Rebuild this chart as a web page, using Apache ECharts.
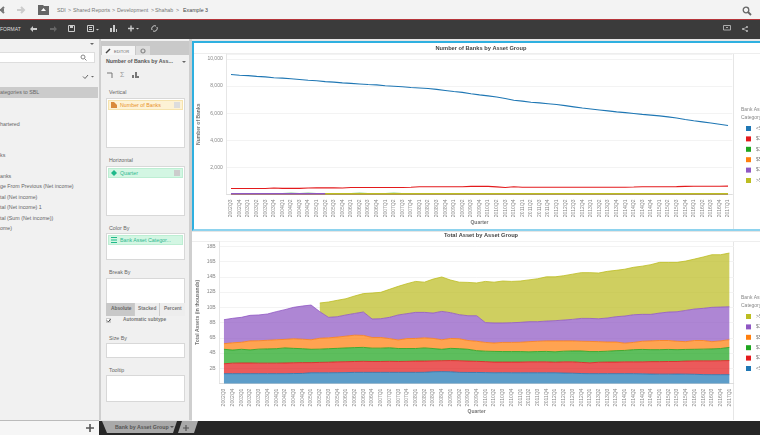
<!DOCTYPE html>
<html>
<head>
<meta charset="utf-8">
<title>Bank by Asset Group</title>
<script src="https://cdn.jsdelivr.net/npm/echarts@6/dist/echarts.min.js"></script>
<style>
html, body { margin: 0; padding: 0; width: 760px; height: 435px; overflow: hidden; background: #e6e6e6; }
body { font-family: "Liberation Sans", Arial, sans-serif; font-size: 5.3px; color: #666; position: relative; filter: blur(.3px); }
.r { position: absolute; box-sizing: border-box; }
.t { position: absolute; white-space: nowrap; line-height: 8px; }
.box { position: absolute; box-sizing: border-box; background: #fff; border: 1px solid #d8d8d8; left: 106px; width: 79px; }
svg { position: absolute; overflow: visible; }
#chart { position: absolute; left: 192px; top: 40px; width: 660px; height: 382px; }
</style>
</head>
<body>
<!-- top bars -->
<div class="r" style="left:0;top:0;width:760px;height:19px;background:#f3f3f3"></div>
<div class="r" style="left:0;top:19px;width:760px;height:1px;background:#b5353a"></div>
<div class="r" style="left:0;top:20px;width:760px;height:19px;background:#3b3b3b"></div>
<svg style="left:0;top:6px" width="10" height="8"><path d="M0 4H4M4 1L1 4L4 7" stroke="#777" stroke-width="2" fill="none"/></svg>
<svg style="left:17px;top:6px" width="10" height="8"><path d="M0 4H7M4 1L7 4L4 7" stroke="#ccc" stroke-width="2" fill="none"/></svg>
<svg style="left:38px;top:5px" width="11" height="10"><path d="M0 0H5L6 1H11V10H0Z" fill="#666"/><path d="M5.5 3L3 6H8Z" fill="#fff"/></svg>
<div class="t" style="left:57px;top:6px;color:#777">SDI</div>
<div class="t" style="left:68px;top:6px;color:#777">&gt;</div>
<div class="t" style="left:73px;top:6px;color:#777">Shared Reports</div>
<div class="t" style="left:112px;top:6px;color:#777">&gt;</div>
<div class="t" style="left:117px;top:6px;color:#777">Development</div>
<div class="t" style="left:151px;top:6px;color:#777">&gt;</div>
<div class="t" style="left:155px;top:6px;color:#777">Shahab</div>
<div class="t" style="left:176px;top:6px;color:#777">&gt;</div>
<div class="t" style="left:183px;top:6px;color:#444">Example 3</div>
<svg style="left:742px;top:6px" width="10" height="10"><circle cx="4" cy="4" r="2.8" stroke="#666" stroke-width="1.3" fill="none"/><path d="M6 6L9 9" stroke="#666" stroke-width="1.8"/></svg>
<div class="t" style="left:0;top:25px;color:#ddd;font-size:5px">FORMAT</div>
<svg style="left:30px;top:26px" width="8" height="6"><path d="M0 3L3 0V6ZM3 2H7V4H3Z" fill="#ccc"/></svg>
<svg style="left:49px;top:26px" width="8" height="6"><path d="M8 3L5 0V6ZM1 2H5V4H1Z" fill="#666"/></svg>
<svg style="left:68px;top:25px" width="7" height="7"><path d="M0.5 0.5H6.5V6.5H0.5Z" stroke="#ccc" fill="none"/><path d="M2 0.5H5V3H2Z" fill="#ccc"/></svg>
<svg style="left:87px;top:25px" width="13" height="7"><path d="M0.5 0.5H6.5V6.5H0.5Z" stroke="#ccc" fill="none"/><path d="M2 2.5H5M2 4.5H5" stroke="#ccc"/><path d="M9 4H12L10.5 5.5Z" fill="#ccc"/></svg>
<svg style="left:109px;top:25px" width="8" height="7"><path d="M1 3H3V7H1ZM4 0H6V7H4ZM7 4H8V7H7Z" fill="#ccc"/></svg>
<svg style="left:128px;top:25px" width="12" height="7"><path d="M0 3.5H6M3 0.5V6.5" stroke="#ccc" stroke-width="1.4"/><path d="M8 3H11L9.5 4.5Z" fill="#ccc"/></svg>
<svg style="left:151px;top:25px" width="7" height="7"><path d="M1 5A3 3 0 0 1 5 1M6 2A3 3 0 0 1 2 6" stroke="#ccc" fill="none"/></svg>
<svg style="left:723px;top:25px" width="8" height="7"><path d="M0.5 0.5H7.5V5H0.5Z" stroke="#aaa" fill="none"/><path d="M3 2.5H5" stroke="#aaa"/></svg>
<svg style="left:742px;top:26px" width="6" height="6"><path d="M1 3L5 1M1 3L5 5" stroke="#bbb" stroke-width=".7"/><circle cx="1" cy="3" r="1" fill="#bbb"/><circle cx="5" cy="1" r="1" fill="#bbb"/><circle cx="5" cy="5" r="1" fill="#bbb"/></svg>

<!-- left panel -->
<div class="r" style="left:0;top:39px;width:99px;height:381px;background:#f1f1f1"></div>
<div class="r" style="left:99px;top:39px;width:2px;height:381px;background:#cfcfcf"></div>
<div class="r" style="left:0;top:52px;width:95px;height:11px;background:#fff;border:1px solid #ddd;border-left:0"></div>
<svg style="left:80px;top:54px" width="7" height="7"><circle cx="3" cy="3" r="2" stroke="#888" fill="none"/><path d="M4.5 4.5L6.5 6.5" stroke="#888"/></svg>
<svg style="left:90px;top:43px" width="4" height="3"><path d="M0 0H4L2 2Z" fill="#666"/></svg>
<svg style="left:83px;top:74px" width="12" height="5"><path d="M0 2.5L2 4.5L5 1" stroke="#666" fill="none"/><path d="M8 2H11L9.5 3.5Z" fill="#666"/></svg>
<div class="r" style="left:0;top:87px;width:98px;height:11px;background:#cbcbcb"></div>
<div class="t" style="left:0;top:88px;color:#666">ategories to SBL</div>
<div class="t" style="left:0;top:120px">hartered</div>
<div class="t" style="left:0;top:151px">ks</div>
<div class="t" style="left:0;top:172px">anks</div>
<div class="t" style="left:0;top:182px">ge From Previous (Net income)</div>
<div class="t" style="left:0;top:193px">tal (Net income)</div>
<div class="t" style="left:0;top:203px">tal (Net income) 1</div>
<div class="t" style="left:0;top:214px">tal (Sum (Net income))</div>
<div class="t" style="left:0;top:224px">ome)</div>

<!-- editor panel -->
<div class="r" style="left:101px;top:39px;width:88px;height:381px;background:#f0f0f0"></div>
<div class="r" style="left:189px;top:39px;width:3px;height:381px;background:#cfcfcf"></div>
<div class="r" style="left:101px;top:41px;width:88px;height:14px;background:#c9c9c9"></div>
<div class="r" style="left:102px;top:46px;width:33px;height:9px;background:#f5f5f5"></div>
<div class="r" style="left:136px;top:46px;width:14px;height:9px;background:#dcdcdc"></div>
<svg style="left:105px;top:48px" width="6" height="6"><path d="M1 5L5 1" stroke="#444" stroke-width="1.4"/></svg>
<div class="t" style="left:114px;top:48px;font-size:4px;color:#666">EDITOR</div>
<svg style="left:140px;top:48px" width="6" height="6"><circle cx="3" cy="3" r="2" stroke="#888" stroke-width="1.2" fill="none"/></svg>
<div class="t" style="left:106px;top:57px;font-weight:bold;color:#555">Number of Banks by Ass...</div>
<svg style="left:182px;top:61px" width="4" height="3"><path d="M0 0H4L2 2Z" fill="#666"/></svg>
<svg style="left:107px;top:72px" width="6" height="6"><path d="M0 1H5V6" stroke="#777" fill="none"/></svg>
<div class="t" style="left:120px;top:71px;color:#999;font-size:7px">&Sigma;</div>
<svg style="left:132px;top:72px" width="7" height="6"><path d="M0 3H2V6H0ZM3 0H5V6H3ZM5 4H7V6H5Z" fill="#777"/></svg>

<div class="t" style="left:109px;top:88px">Vertical</div>
<div class="box" style="top:98px;height:50px"></div>
<div class="r" style="left:108px;top:100px;width:75px;height:10px;background:#fdf2d5;border:1px solid #f6e3ae"></div>
<svg style="left:111px;top:102px" width="6" height="6"><path d="M0 0H3L6 3V6H0Z" fill="#d98a3c"/></svg>
<div class="t" style="left:120px;top:101px;color:#e8902a">Number of Banks</div>
<div class="r" style="left:174px;top:102px;width:6px;height:6px;background:#ddd"></div>

<div class="t" style="left:109px;top:156px">Horizontal</div>
<div class="box" style="top:166px;height:50px"></div>
<div class="r" style="left:108px;top:168px;width:75px;height:10px;background:#d3f6e3;border:1px solid #bdeed3"></div>
<svg style="left:111px;top:170px" width="6" height="6"><path d="M3 0L6 3L3 6L0 3Z" fill="#1fb98a"/></svg>
<div class="t" style="left:120px;top:169px;color:#2eb88f">Quarter</div>
<div class="r" style="left:174px;top:170px;width:6px;height:6px;background:#ccc"></div>

<div class="t" style="left:109px;top:224px">Color By</div>
<div class="box" style="top:233px;height:27px"></div>
<div class="r" style="left:108px;top:235px;width:75px;height:10px;background:#d3f6e3;border:1px solid #bdeed3"></div>
<svg style="left:111px;top:237px" width="6" height="6"><path d="M0 0.5H6M0 3H6M0 5.5H6" stroke="#1fb98a" stroke-width="1.2"/></svg>
<div class="t" style="left:120px;top:236px;color:#2eb88f">Bank Asset Categor...</div>

<div class="t" style="left:109px;top:268px">Break By</div>
<div class="box" style="top:278px;height:38px"></div>
<div class="r" style="left:106px;top:303px;width:28px;height:13px;background:#c8c8c8"></div>
<div class="r" style="left:134px;top:303px;width:25px;height:13px;background:#ededed;border-left:1px solid #ccc"></div>
<div class="r" style="left:159px;top:303px;width:26px;height:13px;background:#ededed;border-left:1px solid #ccc"></div>
<div class="t" style="left:111px;top:305px;font-weight:bold;color:#666;font-size:4.8px">Absolute</div>
<div class="t" style="left:138px;top:305px;font-weight:bold;color:#777;font-size:4.8px">Stacked</div>
<div class="t" style="left:164px;top:305px;font-weight:bold;color:#777;font-size:4.8px">Percent</div>
<div class="r" style="left:106px;top:318px;width:5px;height:5px;background:#fff;border:1px solid #ccc"></div>
<svg style="left:106px;top:318px" width="5" height="5"><path d="M1 2.5L2.5 4L4.5 1" stroke="#444" fill="none"/></svg>
<div class="t" style="left:123px;top:316px;font-size:4.8px;font-weight:bold;color:#777">Automatic subtype</div>

<div class="t" style="left:109px;top:334px">Size By</div>
<div class="box" style="top:343px;height:15px"></div>
<div class="t" style="left:109px;top:366px">Tooltip</div>
<div class="box" style="top:375px;height:27px"></div>

<!-- chart panes, the charts themselves go on top -->
<div class="r" style="left:192px;top:41px;width:580px;height:190px;background:#fff;border:2px solid #2fb0e0;border-bottom-color:#8ed3ee"></div>
<div class="r" style="left:192px;top:232px;width:580px;height:189px;background:#fff"></div>
<div class="r" style="left:194px;top:53px;width:570px;height:1px;background:#eee"></div>
<div class="r" style="left:192px;top:241px;width:570px;height:1px;background:#eee"></div>
<div class="r" style="left:733px;top:54px;width:1px;height:175px;background:#e6e6e6"></div>
<div class="r" style="left:733px;top:241px;width:1px;height:179px;background:#e6e6e6"></div>

<!-- bottom tabs -->
<div class="r" style="left:0;top:420px;width:99px;height:15px;background:#f6f6f6;border-top:1px solid #bbb"></div>
<div class="r" style="left:99px;top:421px;width:661px;height:14px;background:#262626"></div>
<svg style="left:102px;top:421px" width="96" height="13"><path d="M0 0H75L71 12H5Z" fill="#a9a9a9"/><path d="M80 0H96L92 12H76Z" fill="#a9a9a9"/></svg>
<div class="t" style="left:115px;top:423px;font-weight:bold;color:#555">Bank by Asset Group</div>
<svg style="left:170px;top:426px" width="4" height="3"><path d="M0 0H4L2 2Z" fill="#555"/></svg>
<svg style="left:183px;top:425px" width="6" height="6"><path d="M0 3H6M3 0V6" stroke="#555" stroke-width="1.2"/></svg>
<svg style="left:86px;top:424px" width="8" height="8"><path d="M0 4H8M4 0V8" stroke="#555" stroke-width="1.6"/></svg>

<div id="chart"></div>
<script>
var quarters = ['2002Q3','2002Q4','2003Q1','2003Q2','2003Q3','2003Q4','2004Q1','2004Q2','2004Q3','2004Q4',
    '2005Q1','2005Q2','2005Q3','2005Q4','2006Q1','2006Q2','2006Q3','2006Q4','2007Q1','2007Q2',
    '2007Q3','2007Q4','2008Q1','2008Q2','2008Q3','2008Q4','2009Q1','2009Q2','2009Q3','2009Q4',
    '2010Q1','2010Q2','2010Q3','2010Q4','2011Q1','2011Q2','2011Q3','2011Q4','2012Q1','2012Q2',
    '2012Q3','2012Q4','2013Q1','2013Q2','2013Q3','2013Q4','2014Q1','2014Q2','2014Q3','2014Q4',
    '2015Q1','2015Q2','2015Q3','2015Q4','2016Q1','2016Q2','2016Q3','2016Q4','2017Q1'];
var groups = ['<$1B', '$1B-$10B', '$10B-$50B', '$50B-$100B', '$100B-$175B', '>$175B'];
var colors = ['#1f77b4', '#e31a1c', '#1fa51f', '#ff7f0e', '#8f57c3', '#bcbd22'];

// number of banks
var banksUnder1B = [8860,8800,8770,8720,8680,8620,8590,8540,8490,8430,8390,8330,8290,8240,8200,8160,8120,8090,8030,7990,
    7950,7900,7860,7820,7760,7680,7600,7540,7440,7350,7280,7200,7090,6960,6890,6810,6760,6700,6640,6560,
    6470,6380,6310,6240,6170,6100,6040,5975,5910,5860,5800,5730,5640,5530,5440,5360,5280,5190,5090];
var banks1B = [440,440,440,445,445,480,450,450,450,480,490,490,490,480,520,520,520,520,520,520,
    520,530,570,570,570,570,570,570,600,600,600,560,520,570,540,540,540,540,540,540,
    540,540,540,540,540,540,540,550,570,570,570,570,580,600,610,610,610,610,620];
var banks10B = [55,55,55,55,55,55,60,70,60,70,60,55,55,55,60,70,60,55,60,70,
    60,60,60,60,60,60,60,60,60,60,60,60,60,60,60,60,60,60,60,60,
    60,60,60,60,60,60,60,60,60,60,60,60,60,60,60,60,60,60,60];
var banks50B = [50,50,50,50,50,50,50,50,50,50,50,50,50,50,50,50,50,50,50,50,
    50,50,50,50,50,50,50,50,50,50,50,50,50,50,50,50,50,50,50,50,
    50,50,50,50,50,50,50,50,50,50,50,50,50,50,50,50,50,50,50];
var banks100B = [50,50,50,50,50,50,50,50,50,50,50,50,50,50,50,50,50,50,50,50,
    50,50,50,50,50,50,50,50,50,50,50,50,50,50,50,50,50,50,50,50,
    50,50,50,50,50,50,50,50,50,50,50,50,50,50,50,50,50,50,50];
var banks175B = [null,null,null,null,null,null,null,null,null,null,null,50,50,50,50,50,50,50,50,50,
    50,50,50,50,50,50,50,50,50,50,50,50,50,50,50,50,50,50,50,50,
    50,50,50,50,50,50,50,50,50,50,50,50,50,50,50,50,50,50,50];

// total assets: top edge of each band, in billions (thousands on the axis)
var topUnder1B = [1.3,1.3,1.3,1.3,1.3,1.3,1.3,1.3,1.32,1.33,1.42,1.42,1.42,1.43,1.44,1.47,1.47,1.47,1.47,1.47,
    1.47,1.47,1.47,1.48,1.55,1.57,1.55,1.47,1.46,1.46,1.44,1.42,1.43,1.42,1.42,1.42,1.42,1.42,1.42,1.38,
    1.36,1.32,1.3,1.3,1.3,1.3,1.3,1.3,1.28,1.25,1.24,1.24,1.25,1.24,1.22,1.18,1.17,1.17,1.17];
var top1B = [2.6,2.68,2.7,2.7,2.68,2.68,2.68,2.7,2.73,2.75,2.75,2.78,2.8,2.85,2.87,2.9,2.92,2.9,2.9,2.92,
    2.9,2.92,2.95,2.95,2.98,3.0,3.02,3.0,2.95,2.92,2.88,2.82,2.82,2.82,2.82,2.85,2.85,2.85,2.8,2.85,
    2.85,2.78,2.72,2.8,2.82,2.82,2.85,2.85,2.85,2.88,2.88,2.9,2.9,2.95,2.98,2.98,2.98,3.0,3.02];
var top10B = [4.5,4.4,4.5,4.42,4.52,4.55,4.58,4.68,4.62,4.58,4.5,4.52,4.58,4.62,4.68,4.72,4.75,4.65,4.65,4.7,
    4.6,4.6,4.6,4.68,4.6,4.5,4.62,4.58,4.5,4.32,4.25,4.22,4.2,4.2,4.2,4.17,4.2,4.22,4.17,4.25,
    4.28,4.28,4.2,4.2,4.25,4.32,4.35,4.45,4.48,4.45,4.45,4.48,4.45,4.48,4.5,4.52,4.55,4.6,4.75];
var top50B = [5.23,5.35,5.42,5.6,5.62,5.68,5.75,5.8,5.88,5.82,5.75,5.95,6.0,6.1,6.22,6.35,6.32,6.05,6.05,5.9,
    5.72,5.9,5.92,6.0,5.93,5.75,5.92,5.88,5.65,5.55,5.4,5.32,5.4,5.4,5.42,5.5,5.55,5.6,5.6,5.6,
    5.6,5.55,5.53,5.5,5.45,5.45,5.3,5.4,5.55,5.6,5.65,5.65,5.55,5.5,5.65,5.65,5.5,5.6,5.76];
var top100B = [8.38,8.56,8.69,8.95,9.0,9.13,9.43,9.7,10.0,10.17,10.3,9.43,8.69,8.77,9.0,9.2,9.39,8.47,8.51,8.69,
    9.0,9.17,9.34,9.34,9.25,9.47,9.3,9.04,8.9,8.9,8.0,7.95,7.95,7.98,8.03,8.12,8.12,8.2,8.25,8.33,
    8.42,8.55,8.55,8.5,8.6,8.77,8.86,9.03,9.08,9.08,9.25,9.38,9.42,9.6,9.78,9.87,10.0,10.04,10.08];
var top175B = [null,null,null,null,null,null,null,null,null,null,null,10.57,10.7,10.92,11.13,11.49,11.8,11.88,11.97,12.36,
    12.75,13.1,13.4,13.3,13.7,13.98,13.58,13.3,13.27,13.2,13.4,13.3,13.45,13.4,13.45,13.6,13.75,14.0,14.0,14.15,
    14.35,14.55,14.55,14.5,14.72,14.85,15.0,15.25,15.4,15.6,15.9,15.9,15.9,16.07,16.33,16.6,16.9,16.9,17.12];

var banks = [banksUnder1B, banks1B, banks10B, banks50B, banks100B, banks175B];
var tops = [topUnder1B, top1B, top10B, top50B, top100B, top175B];

function band(i) {
    return quarters.map(function(q, k) {
        if (tops[i][k] === null) return null;
        return i == 0 ? tops[i][k] : +(tops[i][k] - tops[i - 1][k]).toFixed(2);
    });
}

var labelColor = '#888';
var fontName = '"Liberation Sans", Arial, sans-serif';
function xAxis(grid, gap) {
    return {
        type: 'category', gridIndex: grid, data: quarters, boundaryGap: true,
        name: 'Quarter', nameLocation: 'middle', nameGap: gap, nameMoveOverlap: false,
        nameTextStyle: {fontSize: 5, fontWeight: 'bold', color: '#777', fontFamily: fontName},
        axisTick: {show: false},
        axisLine: {lineStyle: {color: '#ddd'}},
        axisLabel: {rotate: 90, interval: 0, fontSize: 5, color: labelColor, margin: 5, fontFamily: fontName}
    };
}
function yAxis(grid, max, interval, name, gap, fmt) {
    return {
        type: 'value', gridIndex: grid, min: 0, max: max, interval: interval,
        name: name, nameLocation: 'middle', nameGap: gap, nameMoveOverlap: false,
        nameTextStyle: {fontSize: 5, fontWeight: 'bold', color: '#777', fontFamily: fontName},
        axisLine: {show: true, lineStyle: {color: '#e6e6e6'}},
        axisTick: {show: false},
        splitLine: {lineStyle: {color: '#f3f3f3'}},
        axisLabel: {fontSize: 5, color: labelColor, margin: 4, fontFamily: fontName, showMaxLabel: false, showMinLabel: false, formatter: fmt}
    };
}
function legend(top, names) {
    return {
        left: 549, top: top, orient: 'vertical', data: names,
        itemWidth: 5, itemHeight: 5, itemGap: 5.4, icon: 'rect',
        selectedMode: false,
        textStyle: {fontSize: 5, color: '#777', fontFamily: fontName}
    };
}
function legendTitle(top) {
    return {
        text: 'Bank Asset\nCategory', left: 549, top: top, padding: 0,
        textStyle: {fontSize: 5, fontWeight: 'normal', color: '#888', lineHeight: 8, fontFamily: fontName}
    };
}
function chartTitle(text, top) {
    return {
        text: text, left: 289, top: top, padding: 0, textAlign: 'center',
        textStyle: {fontSize: 5.7, fontWeight: 'bold', color: '#444', fontFamily: fontName}
    };
}

var series = [];
groups.forEach(function(name, i) {
    series.push({
        name: name, type: 'line', xAxisIndex: 0, yAxisIndex: 0, data: banks[i],
        color: colors[i], symbol: 'none', animation: false, clip: false,
        lineStyle: {width: i < 2 ? 1.1 : 1.5}
    });
});
groups.forEach(function(name, i) {
    series.push({
        name: name, type: 'line', xAxisIndex: 1, yAxisIndex: 1, data: band(i), stack: 'assets',
        color: colors[i], symbol: 'none', animation: false,
        lineStyle: {width: 0.8},
        areaStyle: {opacity: 0.72}
    });
});

var option = {
    animation: false,
    title: [chartTitle('Number of Banks by Asset Group', 5), chartTitle('Total Asset by Asset Group', 192),
        legendTitle(66), legendTitle(254)],
    legend: [legend(81, groups), legend(269, groups.slice().reverse())],
    tooltip: {show: true, trigger: 'axis'},
    grid: [
        {left: 34.7, top: 14, width: 505.6, height: 140.5, outerBoundsMode: 'none'},
        {left: 27.6, top: 201.3, width: 514.1, height: 142.3, outerBoundsMode: 'none'}
    ],
    xAxis: [xAxis(0, 26), xAxis(1, 26)],
    yAxis: [
        yAxis(0, 10369, 2000, 'Number of Banks', 26, function(v) { return v.toLocaleString('en-US'); }),
        yAxis(1, 18.66, 2, 'Total Assets (in thousands)', 19, function(v) { return v + 'B'; })
    ],
    series: series
};

var chart = echarts.init(document.getElementById('chart'));
chart.setOption(option);
</script>
</body>
</html>
